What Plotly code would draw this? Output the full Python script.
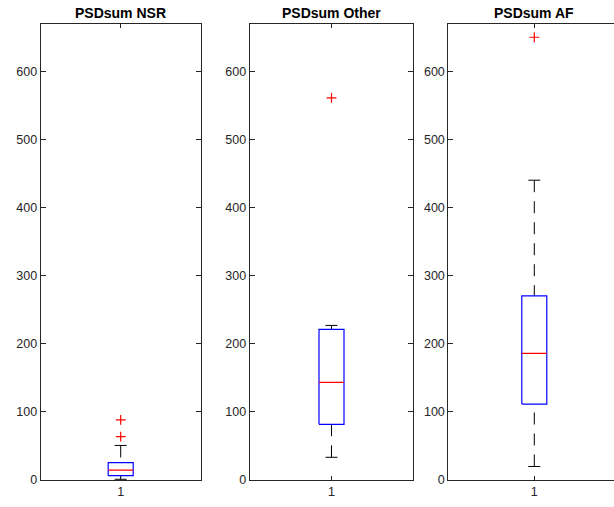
import plotly.graph_objects as go

# ---- data ----
titles = ["PSDsum NSR", "PSDsum Other", "PSDsum AF"]
category = [1, 1, 1]
q1 = [6.3, 81.7, 111.5]
median = [14.5, 143.3, 185.9]
q3 = [25.6, 221.0, 270.3]
lower_whisker = [1.0, 33.3, 19.8]
upper_whisker = [50.7, 226.9, 440.1]
outliers = [[63.7, 88.3], [560.9], [650.0]]
x_ticks = [1]
x_ticklabels = ["1"]
y_ticks = [0, 100, 200, 300, 400, 500, 600]

# ---- styling / layout ----
W, H = 614, 507
axis_px = [(40.7, 200.7), (249.7, 413.3), (448.3, 620.3)]   # full axis pixel extents
top_px, bottom_px = 24.3, 486.7
y_range = [0, 669.5]
box_half_px = 12.5
cap_half_px = 6.0
axcol = "#262626"
font_family = "Liberation Sans, Arial, Helvetica, sans-serif"

fig = go.Figure()

for i in range(3):
    n = "" if i == 0 else str(i + 1)
    xa, ya = "x" + n, "y" + n
    left, right = axis_px[i]
    full_w = right - left
    vis_right = min(right, W)
    x_lo = 0.5
    x_hi = 0.5 + (vis_right - left) / full_w
    hw = box_half_px / full_w
    cw = cap_half_px / full_w
    c = category[i]

    # whiskers (dashed)
    fig.add_trace(go.Scatter(x=[c, c], y=[upper_whisker[i], q3[i]], mode="lines",
                             line=dict(color="black", width=1, dash="12px,9px"),
                             xaxis=xa, yaxis=ya, showlegend=False, hoverinfo="skip"))
    fig.add_trace(go.Scatter(x=[c, c], y=[lower_whisker[i], q1[i]], mode="lines",
                             line=dict(color="black", width=1, dash="12px,9px"),
                             xaxis=xa, yaxis=ya, showlegend=False, hoverinfo="skip"))
    # caps
    for v in (upper_whisker[i], lower_whisker[i]):
        fig.add_trace(go.Scatter(x=[c - cw, c + cw], y=[v, v], mode="lines",
                                 line=dict(color="black", width=1),
                                 xaxis=xa, yaxis=ya, showlegend=False, hoverinfo="skip"))
    # box
    fig.add_trace(go.Scatter(x=[c - hw, c + hw, c + hw, c - hw, c - hw],
                             y=[q1[i], q1[i], q3[i], q3[i], q1[i]], mode="lines",
                             line=dict(color="#0000ff", width=1.2),
                             xaxis=xa, yaxis=ya, showlegend=False, hoverinfo="skip"))
    # median
    fig.add_trace(go.Scatter(x=[c - hw, c + hw], y=[median[i], median[i]], mode="lines",
                             line=dict(color="#ff0000", width=1.2),
                             xaxis=xa, yaxis=ya, showlegend=False, hoverinfo="skip"))
    # outliers
    fig.add_trace(go.Scatter(x=[c] * len(outliers[i]), y=outliers[i], mode="markers",
                             marker=dict(symbol="cross-thin", size=7,
                                         line=dict(color="#ff0000", width=1.2)),
                             xaxis=xa, yaxis=ya, showlegend=False, hoverinfo="skip"))

    dom_x = [left / W, vis_right / W]
    dom_y = [(H - bottom_px) / H, (H - top_px) / H]
    xkey = "xaxis" + n
    ykey = "yaxis" + n
    fig.update_layout(**{
        xkey: dict(domain=dom_x, range=[x_lo, x_hi], anchor=ya,
                   tickmode="array", tickvals=x_ticks, ticktext=x_ticklabels,
                   ticks="inside", ticklen=4, tickcolor=axcol, showline=True,
                   linecolor=axcol, linewidth=1, mirror="ticks", showgrid=False,
                   zeroline=False, fixedrange=True,
                   tickfont=dict(family=font_family, size=12.5, color=axcol)),
        ykey: dict(domain=dom_y, range=y_range, anchor=xa,
                   tickmode="array", tickvals=y_ticks,
                   ticks="inside", ticklen=5, tickcolor=axcol, showline=True,
                   linecolor=axcol, linewidth=1,
                   mirror=("ticks" if i < 2 else False), showgrid=False,
                   zeroline=False, fixedrange=True,
                   tickfont=dict(family=font_family, size=12.5, color=axcol)),
    })
    fig.add_annotation(text="<b>" + titles[i] + "</b>", xref=xa, yref=ya + " domain",
                       x=1, y=1, yanchor="bottom", xanchor="center", yshift=1,
                       showarrow=False,
                       font=dict(family=font_family, size=14, color="black"))

fig.update_layout(width=W, height=H, margin=dict(l=0, r=0, t=0, b=0),
                  plot_bgcolor="white", paper_bgcolor="white")

fig.write_html("out.html")
